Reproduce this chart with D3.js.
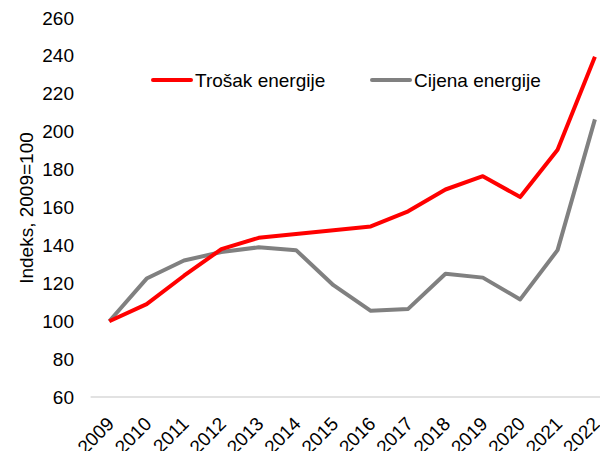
<!DOCTYPE html>
<html><head><meta charset="utf-8">
<script src="https://cdn.jsdelivr.net/npm/d3@7"></script>
<style>body{margin:0;background:#fff}svg{display:block;font-family:"Liberation Sans",Arial,sans-serif}</style>
</head><body>
<svg id="c" width="600" height="451"></svg>
<script>
const years = ["2009","2010","2011","2012","2013","2014","2015","2016","2017","2018","2019","2020","2021","2022"];
const trosak = [100,109,124,138,144,146,148,150,158,169.5,176.5,165.5,190.5,239.5];
const cijena = [100,122.5,132,136.5,139,137.5,119,105.5,106.5,125,123,111.5,137.5,206.5];
const yTicks = [60,80,100,120,140,160,180,200,220,240,260];
const seriesNames = ["Trošak energije","Cijena energije"];
const colors = ["#ff0000","#808080"];

const svg = d3.select("#c");
const x = d3.scaleBand().domain(years).range([90.6, 613.6]);
const y = d3.scaleLinear().domain([60,260]).range([397,18]);
const cx = d => x(d) + x.bandwidth()/2;

// y tick labels
const yAxis = d3.axisLeft(y).tickValues(yTicks).tickSize(0).tickPadding(0);
const gy = svg.append("g").attr("transform","translate(74,0)").call(yAxis);
gy.select(".domain").remove();
gy.selectAll("text").attr("font-size",19).attr("fill","#000").attr("font-family","Liberation Sans, Arial, sans-serif");

// x axis line
svg.append("line").attr("x1",x.range()[0]).attr("x2",x.range()[1]).attr("y1",y(60)).attr("y2",y(60))
  .attr("stroke","#d9d9d9").attr("stroke-width",1.3);

// x tick labels
svg.append("g").selectAll("text").data(years).join("text")
  .attr("transform",d=>`translate(${cx(d)+6},425) rotate(-45)`)
  .attr("text-anchor","end").attr("font-size",19).attr("fill","#000").text(d=>d);

// y title
svg.append("text").attr("transform","translate(33,208) rotate(-90)").attr("text-anchor","middle")
  .attr("font-size",19).attr("fill","#000").text("Indeks, 2009=100");

const line = d3.line().x((d,i)=>cx(years[i])).y(d=>y(d));
[trosak,cijena].forEach((s,k)=>{});
svg.append("path").datum(cijena).attr("d",line).attr("fill","none").attr("stroke",colors[1]).attr("stroke-width",4).attr("stroke-linejoin","round");
svg.append("path").datum(trosak).attr("d",line).attr("fill","none").attr("stroke",colors[0]).attr("stroke-width",4).attr("stroke-linejoin","round");

// legend
const leg = [{x1:153,x2:191,tx:195},{x1:372,x2:410,tx:414}];
leg.forEach((l,i)=>{
  svg.append("line").attr("x1",l.x1).attr("x2",l.x2).attr("y1",80).attr("y2",80)
    .attr("stroke",colors[i]).attr("stroke-width",4).attr("stroke-linecap","round");
  svg.append("text").attr("x",l.tx).attr("y",86.5).attr("font-size",19).attr("fill","#000").text(seriesNames[i]);
});
</script>
</body></html>
